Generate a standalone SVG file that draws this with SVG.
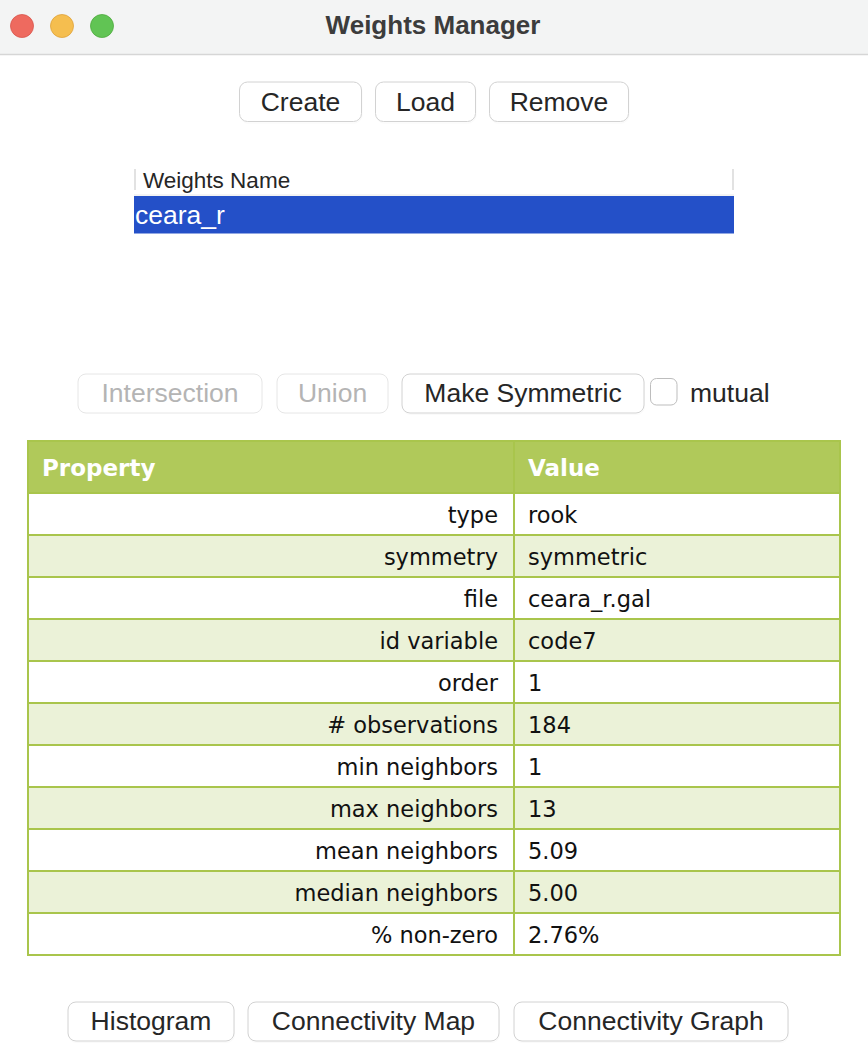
<svg xmlns="http://www.w3.org/2000/svg" width="868" height="1062" viewBox="0 0 868 1062">
<style>
.btn rect{fill:#ffffff;stroke:#d2d2d2;stroke-width:1}
.btn text{font-family:"Liberation Sans",Arial,sans-serif;font-size:26.5px;fill:#262626;text-anchor:middle}
.dis rect{fill:#ffffff;stroke:#e6e6e6;stroke-width:1}
.dis text{fill:#b4b4b4}
.shadow{fill:#000;opacity:0.10}
.cell{font-family:"DejaVu Sans",Verdana,sans-serif;font-size:22.5px;fill:#111}
.prop{text-anchor:end}
.hdr{font-family:"DejaVu Sans",Verdana,sans-serif;font-size:23px;font-weight:bold;fill:#ffffff}
.rowA{fill:#ffffff}
.rowB{fill:#ebf2d8}
.grid{stroke:#a9c54c;stroke-width:2;fill:none}
</style>
<rect x="0" y="0" width="868" height="1062" fill="#ffffff"/>
<g id="titlebar">
<rect x="0" y="0" width="868" height="54" fill="#f3f4f4"/>
<line x1="0" y1="54.5" x2="868" y2="54.5" stroke="#d6d6d6" stroke-width="1.5"/>
<circle cx="22" cy="26" r="11.5" fill="#ee6a5f" stroke="#d8564c" stroke-width="0.8"/>
<circle cx="62" cy="26" r="11.5" fill="#f5be4f" stroke="#dea23a" stroke-width="0.8"/>
<circle cx="102" cy="26" r="11.5" fill="#61c454" stroke="#4eaa3e" stroke-width="0.8"/>
<text x="433" y="34" font-family="Liberation Sans,Arial,sans-serif" font-size="26px" font-weight="bold" fill="#3c3c3c" text-anchor="middle">Weights Manager</text>
</g>
<g id="btn-create" class="btn">
<rect class="shadow" x="240" y="83.5" width="122" height="39.5" rx="8"/>
<rect x="239.5" y="82" width="122" height="39.5" rx="8"/>
<text x="300.5" y="111">Create</text>
</g>
<g id="btn-load" class="btn">
<rect class="shadow" x="376" y="83.5" width="100" height="39.5" rx="8"/>
<rect x="375.5" y="82" width="100" height="39.5" rx="8"/>
<text x="425.5" y="111">Load</text>
</g>
<g id="btn-remove" class="btn">
<rect class="shadow" x="490" y="83.5" width="139" height="39.5" rx="8"/>
<rect x="489.5" y="82" width="139" height="39.5" rx="8"/>
<text x="559" y="111">Remove</text>
</g>
<g id="weights-list">
<line x1="135" y1="169" x2="135" y2="190" stroke="#d8d8d8" stroke-width="1.5"/>
<line x1="733" y1="169" x2="733" y2="190" stroke="#d8d8d8" stroke-width="1.5"/>
<line x1="134" y1="195" x2="734" y2="195" stroke="#e8e8e8" stroke-width="1"/>
<text x="143" y="188" font-family="Liberation Sans,Arial,sans-serif" font-size="22.5px" fill="#262626">Weights Name</text>
<rect x="134" y="196" width="600" height="37.5" fill="#2450c8"/>
<text x="135" y="224" font-family="Liberation Sans,Arial,sans-serif" font-size="26.5px" fill="#ffffff">ceara_r</text>
</g>
<g id="btn-intersection" class="btn dis">
<rect x="78" y="374" width="184" height="39" rx="8"/>
<text x="170" y="402">Intersection</text>
</g>
<g id="btn-union" class="btn dis">
<rect x="277" y="374" width="111" height="39" rx="8"/>
<text x="332.5" y="402">Union</text>
</g>
<g id="btn-symmetric" class="btn">
<rect class="shadow" x="402.5" y="375.5" width="242" height="39" rx="8"/>
<rect x="402" y="374" width="242" height="39" rx="8"/>
<text x="523" y="402">Make Symmetric</text>
</g>
<g id="chk-mutual">
<rect x="650.5" y="378.5" width="26.5" height="26.5" rx="6" fill="#ffffff" stroke="#bdbdbd" stroke-width="1"/>
<text x="690" y="402" font-family="Liberation Sans,Arial,sans-serif" font-size="26.5px" fill="#262626">mutual</text>
</g>
<g id="property-table">
<rect x="27" y="441" width="814" height="52" fill="#b0c95a"/>
<text class="hdr" x="42" y="476">Property</text>
<text class="hdr" x="528" y="476">Value</text>
<rect class="rowA" x="28" y="493" width="812" height="42"/>
<rect class="rowB" x="28" y="535" width="812" height="42"/>
<rect class="rowA" x="28" y="577" width="812" height="42"/>
<rect class="rowB" x="28" y="619" width="812" height="42"/>
<rect class="rowA" x="28" y="661" width="812" height="42"/>
<rect class="rowB" x="28" y="703" width="812" height="42"/>
<rect class="rowA" x="28" y="745" width="812" height="42"/>
<rect class="rowB" x="28" y="787" width="812" height="42"/>
<rect class="rowA" x="28" y="829" width="812" height="42"/>
<rect class="rowB" x="28" y="871" width="812" height="42"/>
<rect class="rowA" x="28" y="913" width="812" height="42"/>
<g class="grid">
<rect x="28" y="441" width="812" height="514"/>
<line x1="514" y1="441" x2="514" y2="955"/>
<line x1="28" y1="493" x2="840" y2="493"/>
<line x1="28" y1="535" x2="840" y2="535"/>
<line x1="28" y1="577" x2="840" y2="577"/>
<line x1="28" y1="619" x2="840" y2="619"/>
<line x1="28" y1="661" x2="840" y2="661"/>
<line x1="28" y1="703" x2="840" y2="703"/>
<line x1="28" y1="745" x2="840" y2="745"/>
<line x1="28" y1="787" x2="840" y2="787"/>
<line x1="28" y1="829" x2="840" y2="829"/>
<line x1="28" y1="871" x2="840" y2="871"/>
<line x1="28" y1="913" x2="840" y2="913"/>
</g>
<text class="cell prop" x="498" y="523">type</text>
<text class="cell" x="528" y="523">rook</text>
<text class="cell prop" x="498" y="565">symmetry</text>
<text class="cell" x="528" y="565">symmetric</text>
<text class="cell prop" x="498" y="607">file</text>
<text class="cell" x="528" y="607">ceara_r.gal</text>
<text class="cell prop" x="498" y="649">id variable</text>
<text class="cell" x="528" y="649">code7</text>
<text class="cell prop" x="498" y="691">order</text>
<text class="cell" x="528" y="691">1</text>
<text class="cell prop" x="498" y="733"># observations</text>
<text class="cell" x="528" y="733">184</text>
<text class="cell prop" x="498" y="775">min neighbors</text>
<text class="cell" x="528" y="775">1</text>
<text class="cell prop" x="498" y="817">max neighbors</text>
<text class="cell" x="528" y="817">13</text>
<text class="cell prop" x="498" y="859">mean neighbors</text>
<text class="cell" x="528" y="859">5.09</text>
<text class="cell prop" x="498" y="901">median neighbors</text>
<text class="cell" x="528" y="901">5.00</text>
<text class="cell prop" x="498" y="943">% non-zero</text>
<text class="cell" x="528" y="943">2.76%</text>
</g>
<g id="btn-histogram" class="btn">
<rect class="shadow" x="68.5" y="1003.5" width="166" height="39" rx="8"/>
<rect x="68" y="1002" width="166" height="39" rx="8"/>
<text x="151" y="1030">Histogram</text>
</g>
<g id="btn-connmap" class="btn">
<rect class="shadow" x="248.5" y="1003.5" width="251" height="39" rx="8"/>
<rect x="248" y="1002" width="251" height="39" rx="8"/>
<text x="373.5" y="1030">Connectivity Map</text>
</g>
<g id="btn-conngraph" class="btn">
<rect class="shadow" x="514.5" y="1003.5" width="274" height="39" rx="8"/>
<rect x="514" y="1002" width="274" height="39" rx="8"/>
<text x="651" y="1030">Connectivity Graph</text>
</g>
</svg>
